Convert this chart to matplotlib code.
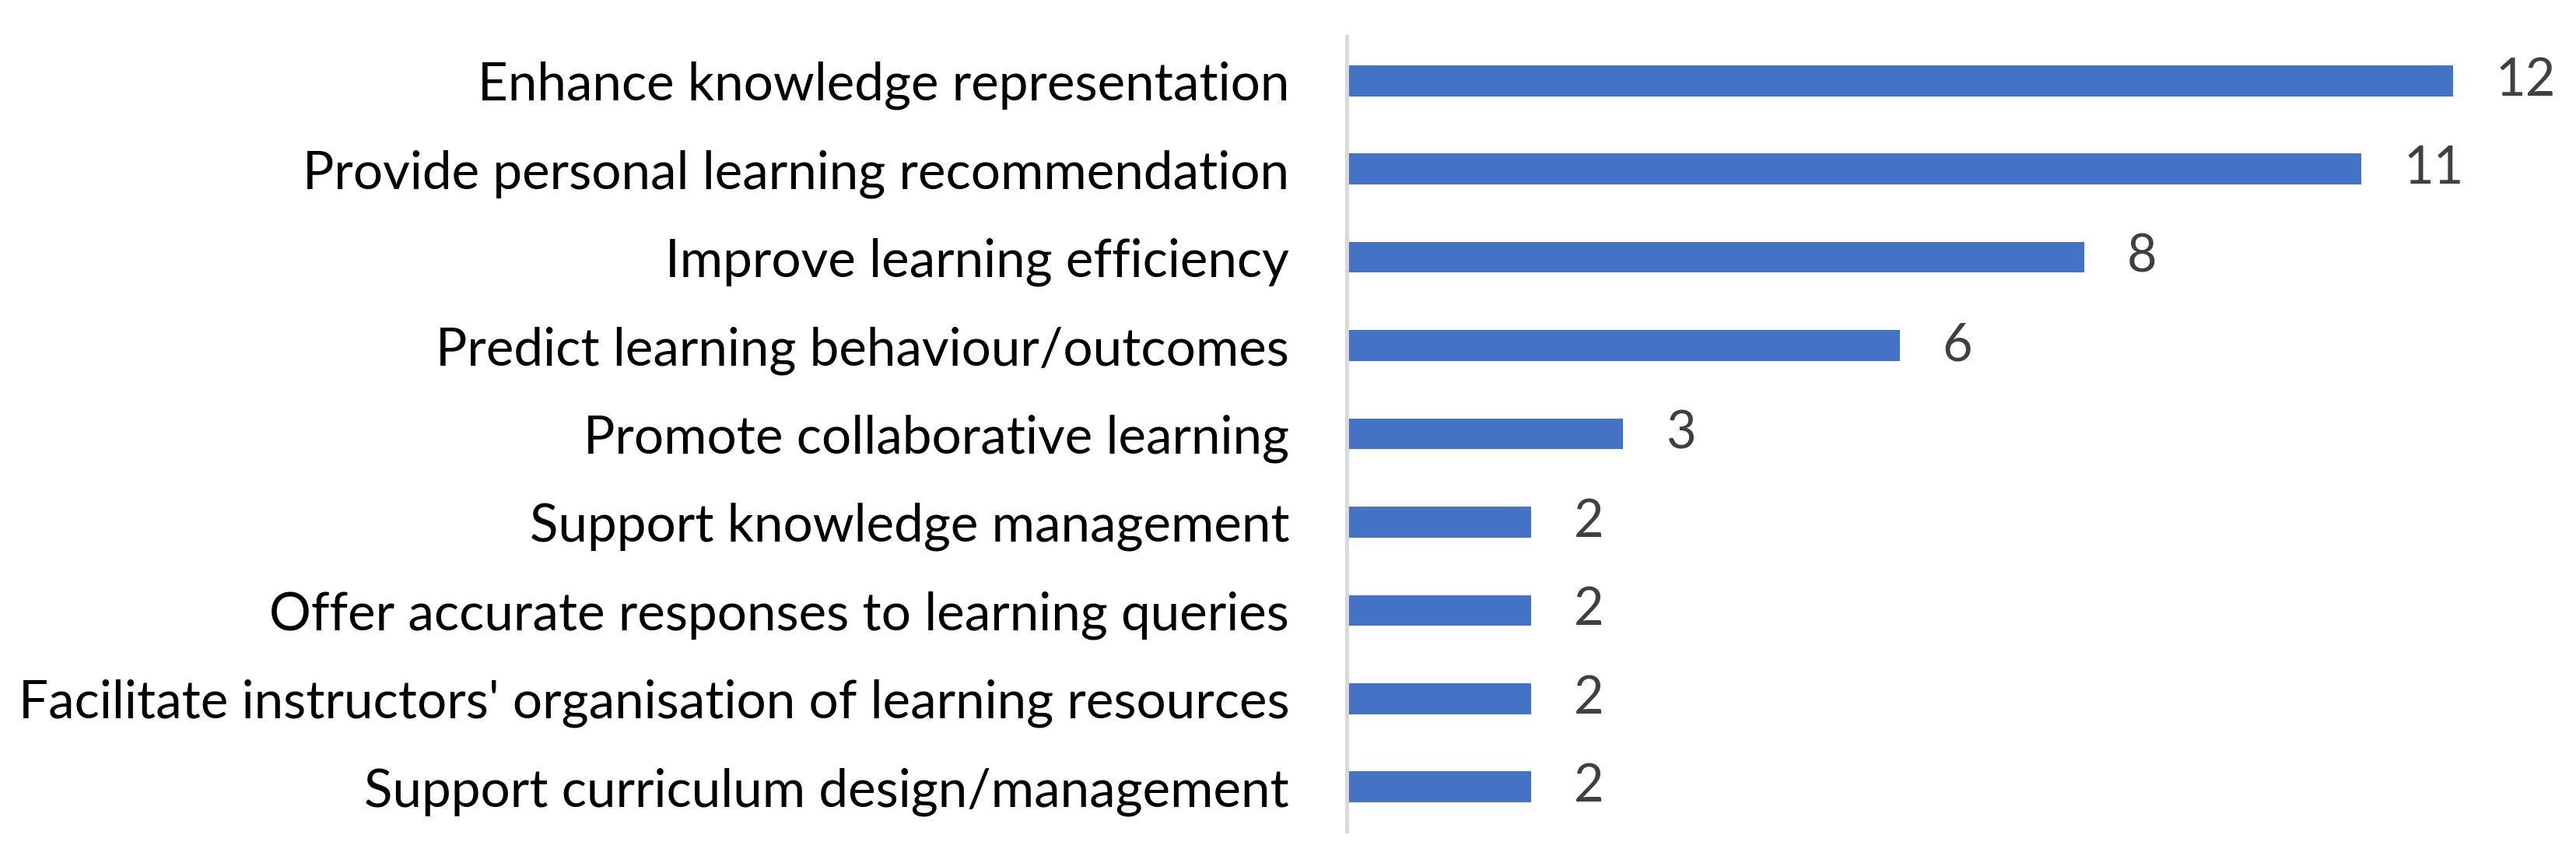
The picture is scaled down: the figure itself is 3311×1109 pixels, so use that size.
import numpy as np
import matplotlib.pyplot as plt

categories = [
    "Enhance knowledge representation",
    "Provide personal learning recommendation",
    "Improve learning efficiency",
    "Predict learning behaviour/outcomes",
    "Promote collaborative learning",
    "Support knowledge management",
    "Offer accurate responses to learning queries",
    "Facilitate instructors' organisation of learning resources",
    "Support curriculum design/management",
]
counts = [12, 11, 8, 6, 3, 2, 2, 2, 2]

plt.rcParams['font.family'] = ['Lato', 'DejaVu Sans']

fig = plt.figure(figsize=(33.12, 11.09), dpi=100)
ax = fig.add_axes([0.5226, 0.037, 0.4774, 0.9206])

y = np.arange(len(categories))
ax.barh(y, counts, height=0.35, color='#4472C4')
for yi, c in zip(y, counts):
    ax.text(c + 0.46, yi, str(c), va='center', ha='left', fontsize=48, color='#404040')

ax.set_xlim(0, 13.34)
ax.set_ylim(len(categories) - 0.5, -0.5)
ax.set_yticks(y)
ax.set_yticklabels(categories, fontsize=48.5, color='black')
ax.tick_params(axis='y', length=0, pad=53)
ax.set_xticks([])
for side in ['top', 'right', 'bottom']:
    ax.spines[side].set_visible(False)
ax.spines['left'].set_color('#D9D9D9')
ax.spines['left'].set_linewidth(3.5)

fig.savefig('out.png', dpi=100)
